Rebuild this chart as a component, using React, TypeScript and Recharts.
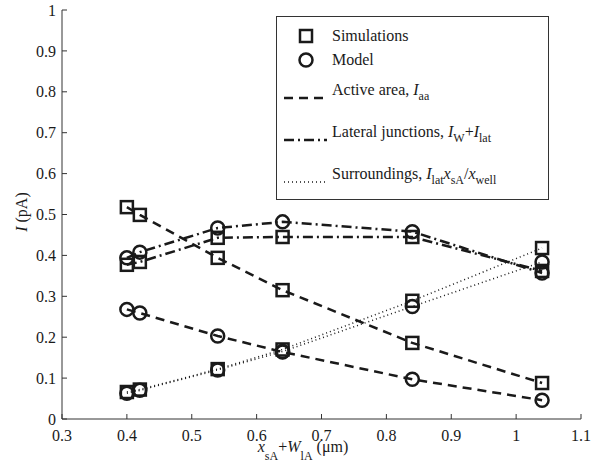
import { ComposedChart, Line, XAxis, YAxis, Label } from "recharts";

const xValues = [0.4, 0.42, 0.54, 0.64, 0.84, 1.04];
const activeSim = [0.518, 0.499, 0.394, 0.315, 0.186, 0.088];
const activeModel = [0.268, 0.259, 0.203, 0.164, 0.097, 0.046];
const lateralSim = [0.377, 0.384, 0.443, 0.445, 0.445, 0.362];
const lateralModel = [0.394, 0.408, 0.467, 0.482, 0.458, 0.357];
const surrSim = [0.066, 0.072, 0.122, 0.17, 0.289, 0.418];
const surrModel = [0.063, 0.07, 0.12, 0.165, 0.275, 0.384];

const xTicks = [0.3, 0.4, 0.5, 0.6, 0.7, 0.8, 0.9, 1, 1.1];
const yTicks = [0, 0.1, 0.2, 0.3, 0.4, 0.5, 0.6, 0.7, 0.8, 0.9, 1];

const data = xValues.map((x, i) => ({
  x,
  activeSim: activeSim[i],
  activeModel: activeModel[i],
  lateralSim: lateralSim[i],
  lateralModel: lateralModel[i],
  surrSim: surrSim[i],
  surrModel: surrModel[i],
}));

const INK = "#1a1a1a";
const FONT = "'Liberation Serif', 'Times New Roman', serif";
const DASHED = "9 6";
const DASHDOT = "10 4 2 4";
const DOTTED = "1 3";

const txt = { fontSize: 16, fill: INK };

function SquareDot(props: any) {
  const { cx, cy } = props;
  if (cx == null || cy == null) return null;
  return <rect x={cx - 6} y={cy - 6} width={12} height={12} fill="none" stroke={INK} strokeWidth={2.5} />;
}

function CircleDot(props: any) {
  const { cx, cy } = props;
  if (cx == null || cy == null) return null;
  return <circle cx={cx} cy={cy} r={6.5} fill="none" stroke={INK} strokeWidth={2.5} />;
}

function YTick(props: any) {
  const { x, y, payload } = props;
  const ax = x + 6;
  return (
    <g>
      <line x1={ax} x2={ax + 5} y1={y} y2={y} stroke="#333" />
      <text x={x} y={y} dy="0.35em" textAnchor="end" style={txt}>
        {payload.value}
      </text>
    </g>
  );
}

function XTick(props: any) {
  const { x, y, payload } = props;
  const ay = y - 4;
  return (
    <g>
      <line x1={x} x2={x} y1={ay} y2={ay - 5} stroke="#333" />
      <text x={x} y={ay + 22} textAnchor="middle" style={txt}>
        {payload.value}
      </text>
    </g>
  );
}

function LegendRow({ top, kind, children }: { top: number; kind: string; children: any }) {
  return (
    <div style={{ position: "absolute", left: 0, top, width: 272, height: 24 }}>
      <svg width={56} height={24} style={{ position: "absolute", left: 0, top: 0 }}>
        {kind === "square" && <rect x={23} y={6} width={12} height={12} fill="none" stroke={INK} strokeWidth={2.5} />}
        {kind === "circle" && <circle cx={29} cy={12} r={6.5} fill="none" stroke={INK} strokeWidth={2.5} />}
        {kind === "dashed" && <line x1={7} x2={50} y1={20} y2={20} stroke={INK} strokeWidth={2.5} strokeDasharray={DASHED} />}
        {kind === "dashdot" && <line x1={7} x2={50} y1={20} y2={20} stroke={INK} strokeWidth={2.5} strokeDasharray={DASHDOT} />}
        {kind === "dotted" && <line x1={7} x2={50} y1={20} y2={20} stroke={INK} strokeWidth={1.5} strokeDasharray={DOTTED} />}
      </svg>
      <div style={{ position: "absolute", left: 55, top: 2, fontSize: 16, color: INK, whiteSpace: "nowrap", lineHeight: "20px" }}>
        {children}
      </div>
    </div>
  );
}

const sub = { fontSize: 12, verticalAlign: "-5px" } as const;

export default function App() {
  return (
    <div id="fig" style={{ position: "absolute", left: 0, top: 0, width: 593, height: 468, background: "#fff" }}>
      <style>{`html body #root #fig, html body #root #fig * { font-family: ${FONT} !important; }`}</style>
      <ComposedChart width={593} height={468} data={data} margin={{ top: 10, right: 12, bottom: 19, left: 0 }}>
        <XAxis
          dataKey="x"
          type="number"
          domain={[0.3, 1.1]}
          ticks={xTicks}
          tick={<XTick />}
          tickLine={false}
          tickSize={0}
          tickMargin={4}
          height={30}
          stroke="#333"
          interval={0}
        >
          <Label
            content={() => (
              <text x={303} y={452} textAnchor="middle" style={txt}>
                <tspan fontStyle="italic">x</tspan>
                <tspan fontSize={12} dy={8}>sA</tspan>
                <tspan dy={-8}>+</tspan>
                <tspan fontStyle="italic">W</tspan>
                <tspan fontSize={12} dy={8}>lA</tspan>
                <tspan dy={-8}> (μm)</tspan>
              </text>
            )}
          />
        </XAxis>
        <YAxis
          type="number"
          domain={[0, 1]}
          ticks={yTicks}
          tick={<YTick />}
          tickLine={false}
          tickSize={0}
          tickMargin={6}
          width={62}
          stroke="#333"
          interval={0}
        >
          <Label
            content={() => (
              <text x={27} y={212} transform="rotate(-90 27 212)" textAnchor="middle" style={txt}>
                <tspan fontStyle="italic">I</tspan>
                <tspan> (pA)</tspan>
              </text>
            )}
          />
        </YAxis>
        <Line dataKey="activeSim" stroke={INK} strokeWidth={2.5} strokeDasharray={DASHED} dot={<SquareDot />} isAnimationActive={false} />
        <Line dataKey="activeModel" stroke={INK} strokeWidth={2.5} strokeDasharray={DASHED} dot={<CircleDot />} isAnimationActive={false} />
        <Line dataKey="lateralSim" stroke={INK} strokeWidth={2.5} strokeDasharray={DASHDOT} dot={<SquareDot />} isAnimationActive={false} />
        <Line dataKey="lateralModel" stroke={INK} strokeWidth={2.5} strokeDasharray={DASHDOT} dot={<CircleDot />} isAnimationActive={false} />
        <Line dataKey="surrSim" stroke={INK} strokeWidth={1.5} strokeDasharray={DOTTED} dot={<SquareDot />} isAnimationActive={false} />
        <Line dataKey="surrModel" stroke={INK} strokeWidth={1.5} strokeDasharray={DOTTED} dot={<CircleDot />} isAnimationActive={false} />
      </ComposedChart>
      <div style={{ position: "absolute", left: 276, top: 16, width: 271, height: 182, border: "1px solid #333", background: "#fff" }}>
        <LegendRow top={7} kind="square">Simulations</LegendRow>
        <LegendRow top={31} kind="circle">Model</LegendRow>
        <LegendRow top={61} kind="dashed">
          Active area, <i>I</i><span style={sub}>aa</span>
        </LegendRow>
        <LegendRow top={103} kind="dashdot">
          Lateral junctions, <i>I</i><span style={sub}>W</span>+<i>I</i><span style={sub}>lat</span>
        </LegendRow>
        <LegendRow top={145} kind="dotted">
          Surroundings, <i>I</i><span style={sub}>lat</span><i>x</i><span style={sub}>sA</span>/<i>x</i><span style={sub}>well</span>
        </LegendRow>
      </div>
    </div>
  );
}
